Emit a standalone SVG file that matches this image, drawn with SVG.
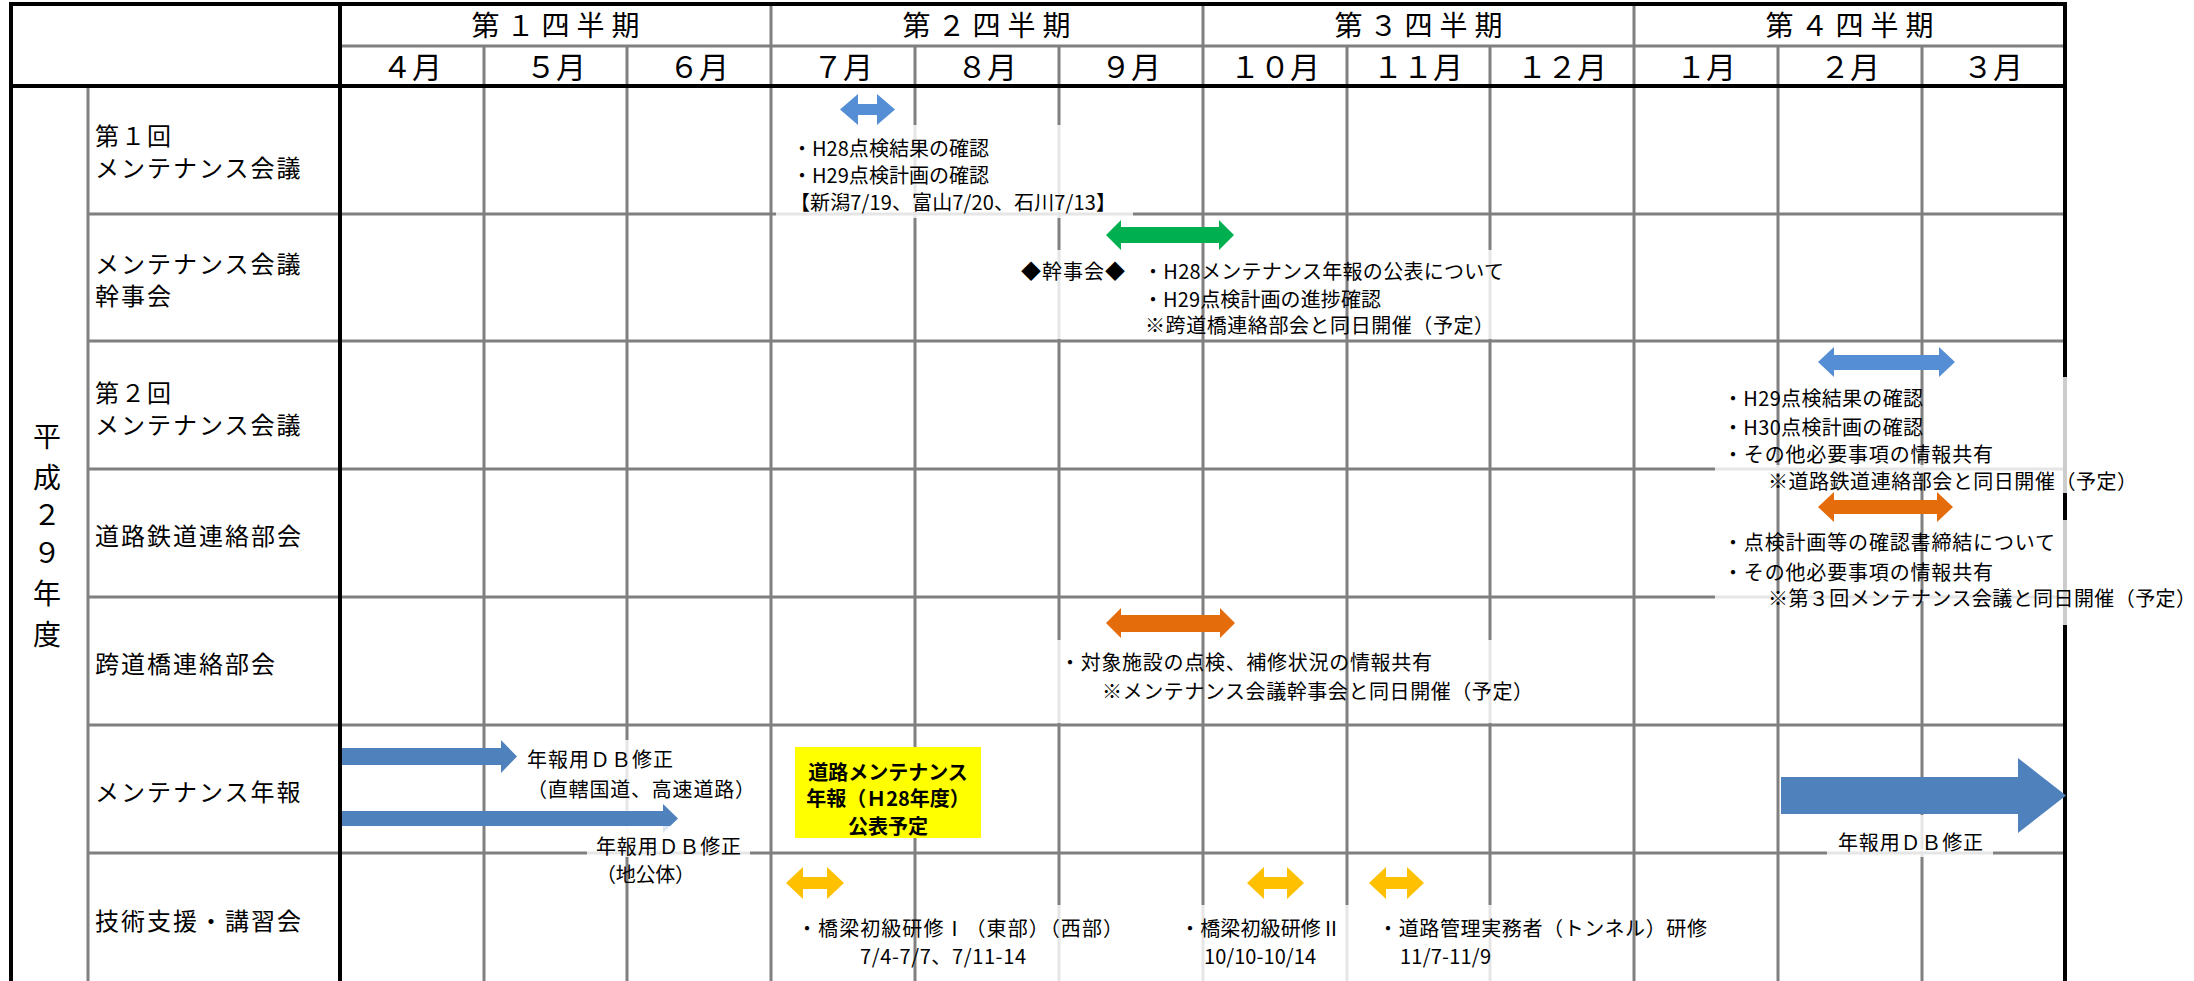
<svg xmlns="http://www.w3.org/2000/svg" width="2194" height="981" viewBox="0 0 2194 981">
<style>
text{font-family:"Noto Sans CJK JP","Noto Sans",sans-serif;fill:#000}
.g{stroke:#808080;stroke-width:3;fill:none}
.k{stroke:#000;stroke-width:4;fill:none}
.q{font-size:28px;letter-spacing:7px;text-anchor:middle}
.m{font-size:30px;text-anchor:middle}
.r{font-size:24px;letter-spacing:2px}
.v{font-size:28px;text-anchor:middle}
.t{font-size:20px}
.b{font-size:20px;font-weight:bold;text-anchor:middle}
.fade{fill:#fff;fill-opacity:0.8}
.blue1{fill:#558ED5}
.blue2{fill:#4F81BD}
.green{fill:#00B050}
.orange{fill:#E46C0A}
.yel{fill:#FFC000}
</style>
<rect x="0" y="0" width="2194" height="981" fill="#fff"/>
<g id="grid">
<path class="g" d="M340 46H2065 M771 4V981 M1203 4V981 M1634 4V981 M484 46V981 M627 46V981 M915 46V981 M1059 46V981 M1347 46V981 M1490 46V981 M1778 46V981 M1922 46V981 M88 86V981 M88 214H2065 M88 341H2065 M88 469H2065 M88 597H2065 M88 725H2065 M88 853H2065"/>
<path class="k" d="M9 4H2067 M11 4V981 M2065 4V981 M11 86H2065 M340 4V981"/>
</g>
<g id="header">
<text class="q" x="559" y="36">第１四半期</text>
<text class="q" x="990" y="36">第２四半期</text>
<text class="q" x="1422" y="36">第３四半期</text>
<text class="q" x="1853" y="36">第４四半期</text>
<text class="m" x="412" y="78">４月</text>
<text class="m" x="556" y="78">５月</text>
<text class="m" x="699" y="78">６月</text>
<text class="m" x="843" y="78">７月</text>
<text class="m" x="987" y="78">８月</text>
<text class="m" x="1131" y="78">９月</text>
<text class="m" x="1275" y="78">１０月</text>
<text class="m" x="1418" y="78">１１月</text>
<text class="m" x="1562" y="78">１２月</text>
<text class="m" x="1706" y="78">１月</text>
<text class="m" x="1850" y="78">２月</text>
<text class="m" x="1993" y="78">３月</text>
</g>
<g id="year-label">
<text class="v" x="47" y="447">平</text>
<text class="v" x="47" y="488">成</text>
<text class="v" x="47" y="525">２</text>
<text class="v" x="47" y="563">９</text>
<text class="v" x="47" y="604">年</text>
<text class="v" x="47" y="645">度</text>
</g>
<g id="row-labels">
<text class="r" x="95" y="145">第１回</text>
<text class="r" x="95" y="177">メンテナンス会議</text>
<text class="r" x="95" y="273">メンテナンス会議</text>
<text class="r" x="95" y="305">幹事会</text>
<text class="r" x="95" y="402">第２回</text>
<text class="r" x="95" y="434">メンテナンス会議</text>
<text class="r" x="95" y="545">道路鉄道連絡部会</text>
<text class="r" x="95" y="673">跨道橋連絡部会</text>
<text class="r" x="95" y="801">メンテナンス年報</text>
<text class="r" x="95" y="930">技術支援・講習会</text>
</g>
<g id="textbox-backs">
<rect class="fade" x="911" y="125" width="8" height="87"/>
<rect class="fade" x="1055" y="125" width="8" height="87"/>
<rect class="fade" x="776" y="210" width="357" height="8"/>
<rect class="fade" x="1055" y="250" width="8" height="89"/>
<rect class="fade" x="1486" y="250" width="8" height="89"/>
<rect class="fade" x="2061" y="377" width="9" height="116"/>
<rect class="fade" x="2061" y="520" width="9" height="105"/>
<rect class="fade" x="1715" y="465" width="346" height="8"/>
<rect class="fade" x="1715" y="593" width="346" height="8"/>
<rect class="fade" x="1055" y="640" width="8" height="83"/>
<rect class="fade" x="1486" y="640" width="8" height="83"/>
<rect class="fade" x="623" y="740" width="8" height="111"/>
<rect class="fade" x="1918" y="815" width="8" height="36"/>
<rect class="fade" x="1827" y="849" width="166" height="8"/>
<rect class="fade" x="1055" y="905" width="8" height="76"/>
<rect class="fade" x="1199" y="905" width="8" height="76"/>
<rect class="fade" x="1343" y="905" width="8" height="76"/>
<rect class="fade" x="1486" y="905" width="8" height="76"/>
</g>
<g id="connectors">
<polygon class="blue1" points="840,109.5 858,94 858,104 877,104 877,94 895,109.5 877,125 877,115 858,115 858,125"/>
<polygon class="green" points="1106,235 1121,220 1121,227 1219,227 1219,220 1234,235 1219,250 1219,243 1121,243 1121,250"/>
<polygon class="blue1" points="1818,362 1834,347 1834,355 1939,355 1939,347 1955,362 1939,377 1939,370 1834,370 1834,377"/>
<polygon class="orange" points="1818,507 1834,492 1834,500 1937,500 1937,492 1953,507 1937,522 1937,514 1834,514 1834,522"/>
<polygon class="orange" points="1106,623 1121,608 1121,615 1220,615 1220,608 1235,623 1220,638 1220,632 1121,632 1121,638"/>
<polygon class="blue2" points="342,748 501,748 501,740 517,756.5 501,773 501,765 342,765"/>
<polygon class="blue2" points="342,811 663,811 663,804 678,818.5 663,833 663,826 342,826"/>
<polygon class="blue2" points="1781,777 2018,777 2018,758 2066,795.5 2018,833 2018,814 1781,814"/>
<polygon class="yel" points="786,883 803,867 803,877 827,877 827,867 844,883 827,899 827,889 803,889 803,899"/>
<polygon class="yel" points="1247,883 1264,867 1264,877 1287,877 1287,867 1304,883 1287,899 1287,889 1264,889 1264,899"/>
<polygon class="yel" points="1369,883 1386,867 1386,877 1407,877 1407,867 1424,883 1407,899 1407,889 1386,889 1386,899"/>
</g>
<rect class="fade" x="587" y="826" width="163" height="31"/>
<g id="meeting1">
<text class="t" x="792" y="156" textLength="197">・H28点検結果の確認</text>
<text class="t" x="792" y="183" textLength="197">・H29点検計画の確認</text>
<text class="t" x="790" y="210" textLength="326">【新潟7/19、富山7/20、石川7/13】</text>
</g>
<g id="kanjikai">
<text class="t" x="1021" y="279" textLength="104">◆幹事会◆</text>
<text class="t" x="1143" y="279" textLength="361">・H28メンテナンス年報の公表について</text>
<text class="t" x="1143" y="307" textLength="238">・H29点検計画の進捗確認</text>
<text class="t" x="1145" y="333" textLength="349">※跨道橋連絡部会と同日開催（予定）</text>
</g>
<g id="meeting2">
<text class="t" x="1723" y="406" textLength="200">・H29点検結果の確認</text>
<text class="t" x="1723" y="435" textLength="200">・H30点検計画の確認</text>
<text class="t" x="1723" y="462" textLength="270">・その他必要事項の情報共有</text>
<text class="t" x="1768" y="489" textLength="369">※道路鉄道連絡部会と同日開催（予定）</text>
</g>
<g id="railway">
<text class="t" x="1723" y="550" textLength="332">・点検計画等の確認書締結について</text>
<text class="t" x="1723" y="580" textLength="270">・その他必要事項の情報共有</text>
<text class="t" x="1768" y="606" textLength="428">※第３回メンテナンス会議と同日開催（予定）</text>
</g>
<g id="overpass">
<text class="t" x="1060" y="670" textLength="372">・対象施設の点検、補修状況の情報共有</text>
<text class="t" x="1102" y="699" textLength="431">※メンテナンス会議幹事会と同日開催（予定）</text>
</g>
<g id="annual-report">
<text class="t" x="527" y="767" textLength="146">年報用ＤＢ修正</text>
<text class="t" x="527" y="797" textLength="228">（直轄国道、高速道路）</text>
<text class="t" x="596" y="854" textLength="145">年報用ＤＢ修正</text>
<text class="t" x="596" y="882" textLength="99">（地公体）</text>
<rect x="795" y="747" width="186" height="91" fill="#FFFF00"/>
<text class="b" x="888" y="780">道路メンテナンス</text>
<text class="b" x="888" y="806">年報（Ｈ28年度）</text>
<text class="b" x="888" y="834">公表予定</text>
<text class="t" x="1838" y="850" textLength="145">年報用ＤＢ修正</text>
</g>
<g id="training">
<text class="t" x="797" y="936" textLength="326">・橋梁初級研修Ⅰ（東部）（西部）</text>
<text class="t" x="860" y="964" textLength="166">7/4-7/7、7/11-14</text>
<text class="t" x="1180" y="936" textLength="161">・橋梁初級研修Ⅱ</text>
<text class="t" x="1204" y="964" textLength="112">10/10-10/14</text>
<text class="t" x="1378" y="936" textLength="329">・道路管理実務者（トンネル）研修</text>
<text class="t" x="1400" y="964" textLength="91">11/7-11/9</text>
</g>
</svg>
